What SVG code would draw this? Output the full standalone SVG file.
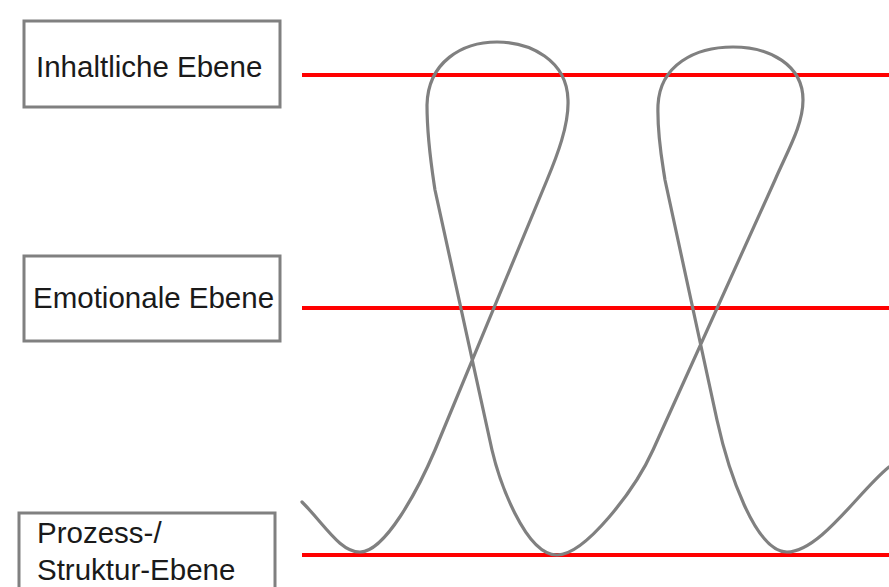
<svg xmlns="http://www.w3.org/2000/svg" width="889" height="587" viewBox="0 0 889 587">
<style>
.box{fill:#fff;stroke:#808080;stroke-width:3}
.lbl{font-family:"Liberation Sans",Arial,sans-serif;font-size:29.5px;fill:#1a1a1a}
.lvl{stroke:#ff0000;stroke-width:4;fill:none}
.curve{stroke:#808080;stroke-width:3.2;fill:none;stroke-linecap:round;stroke-linejoin:round}
</style>
<rect width="889" height="587" fill="#fff"/>
<g id="connectors">
<line class="lvl" x1="302" y1="75" x2="889" y2="75"/>
<line class="lvl" x1="302" y1="308" x2="889" y2="308"/>
<line class="lvl" x1="302" y1="555" x2="889" y2="555"/>
<path class="curve" d="M302,502 C325,525 340,552 360,552 C385,552 418,490 435,450 L547,180 C557,156 569,125 568,100 C567,60 530,42 497,42 C462,42 428,62 427,105 C427,140 432,170 435,190 L492,450 C499,480 525,555 557,555 C585,555 635,490 653,450 L775,180 C788,150 803,125 803,100 C803,65 770,47 733,47 C695,47 660,65 658,105 C657,135 662,160 665,180 L717,420 C728,470 755,552 787,552 C820,552 860,490 889,467"/>
</g>
<g id="node-inhaltlich">
<rect class="box" x="24" y="21" width="256" height="86"/>
<text class="lbl" x="36" y="77">Inhaltliche Ebene</text>
</g>
<g id="node-emotional">
<rect class="box" x="24" y="256" width="256" height="85"/>
<text class="lbl" x="33" y="308">Emotionale Ebene</text>
</g>
<g id="node-prozess">
<rect class="box" x="19" y="513" width="256" height="82"/>
<text class="lbl" x="37" y="543">Prozess-/</text>
<text class="lbl" x="37" y="580">Struktur-Ebene</text>
</g>
</svg>
